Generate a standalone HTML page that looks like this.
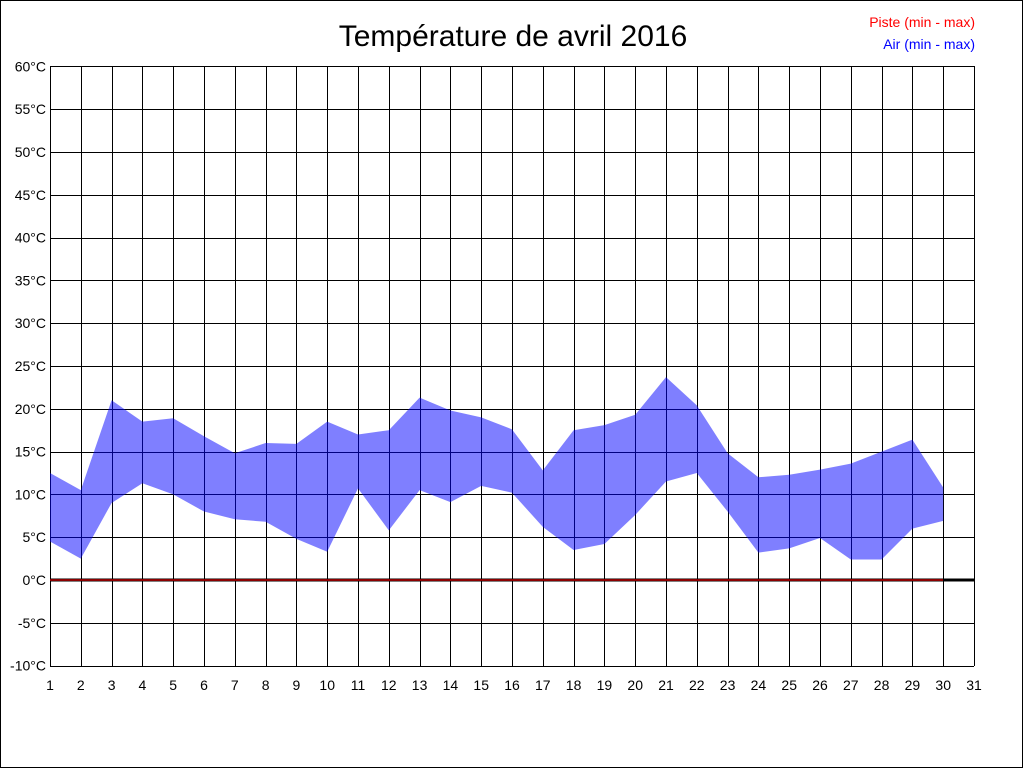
<!DOCTYPE html>
<html><head><meta charset="utf-8"><style>
html,body{margin:0;padding:0;background:#fff}
svg{display:block}
text{font-family:"Liberation Sans",sans-serif}
</style></head><body>
<svg width="1024" height="768" xmlns="http://www.w3.org/2000/svg">
<rect x="0.5" y="0.5" width="1022" height="767" fill="#fff" stroke="#000"/>
<text x="513" y="46" font-size="30" text-anchor="middle">Température de avril 2016</text>
<text x="975" y="27" font-size="14" text-anchor="end" fill="#ff0000">Piste (min - max)</text>
<text x="975" y="49" font-size="14" text-anchor="end" fill="#0000ff">Air (min - max)</text>
<g id="grid" stroke="#000" stroke-width="1"></g>
<g id="labels" font-size="14"></g>
<polygon id="band" fill="#0000ff" fill-opacity="0.5"></polygon>
<line x1="50" y1="580" x2="974" y2="580" stroke="#000" stroke-width="3"/>
<line x1="50" y1="580" x2="943" y2="580" stroke="#8b0000" stroke-width="2"/>
</svg>
<script>
var ns="http://www.w3.org/2000/svg";
function X(d){return 50+(d-1)*30.8;}
function Y(t){return 580-t*8.56;}
var g=document.getElementById('grid'),L=document.getElementById('labels');
for(var d=1;d<=31;d++){var l=document.createElementNS(ns,'line');var x=Math.round(X(d))+0.5;l.setAttribute('x1',x);l.setAttribute('x2',x);l.setAttribute('y1',66);l.setAttribute('y2',666);g.appendChild(l);
var t=document.createElementNS(ns,'text');t.setAttribute('x',X(d));t.setAttribute('y',690);t.setAttribute('text-anchor','middle');t.textContent=d;L.appendChild(t);}
for(var v=-10;v<=60;v+=5){var l=document.createElementNS(ns,'line');var y=Math.round(Y(v))+0.5;l.setAttribute('x1',50);l.setAttribute('x2',974);l.setAttribute('y1',y);l.setAttribute('y2',y);g.appendChild(l);
var t=document.createElementNS(ns,'text');t.setAttribute('x',46);t.setAttribute('y',Y(v)+5);t.setAttribute('text-anchor','end');t.textContent=v+'°C';L.appendChild(t);}
var mx=[12.5,10.5,21,18.5,18.9,16.8,14.8,16,15.9,18.5,17,17.5,21.3,19.8,19,17.6,12.8,17.5,18.1,19.3,23.7,20.4,14.8,12,12.3,12.9,13.6,15,16.4,10.8];
var mn=[4.5,2.5,9,11.3,10,8,7.1,6.8,4.8,3.3,10.7,5.8,10.5,9.1,11,10.2,6.2,3.5,4.2,7.6,11.5,12.5,8,3.2,3.7,4.9,2.4,2.4,6,6.9];
var p=[];for(var i=0;i<30;i++)p.push(X(i+1)+','+Y(mx[i]));for(var i=29;i>=0;i--)p.push(X(i+1)+','+Y(mn[i]));
document.getElementById('band').setAttribute('points',p.join(' '));
</script>
</body></html>
